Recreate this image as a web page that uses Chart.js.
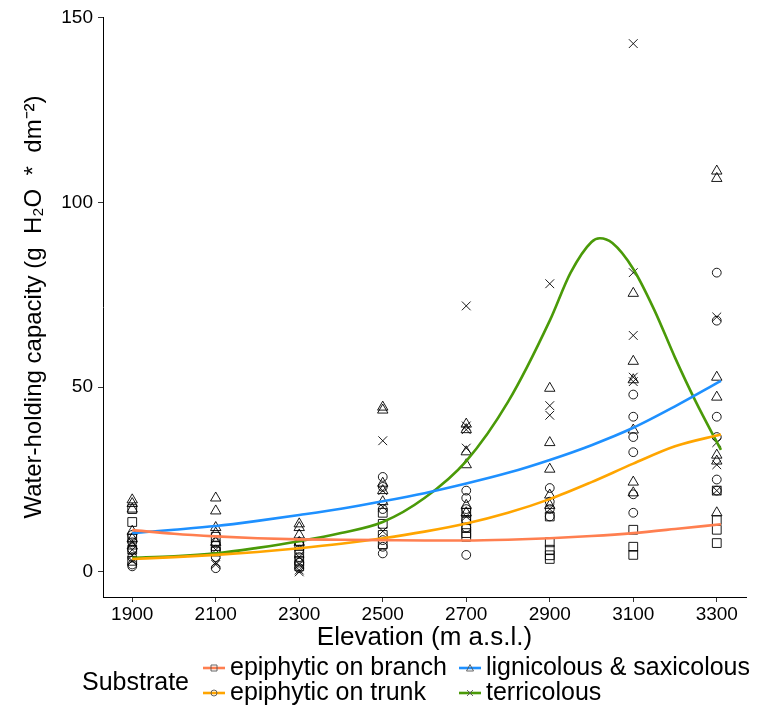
<!DOCTYPE html>
<html>
<head>
<meta charset="utf-8">
<script src="https://cdn.jsdelivr.net/npm/chart.js@4.4.1/dist/chart.umd.min.js"></script>
<style>
  html, body { margin: 0; padding: 0; background: #fff; }
  #wrap { width: 757px; height: 707px; }
</style>
</head>
<body>
<div id="wrap"><canvas id="c" width="757" height="707"></canvas></div>
<script>
// ---------- Data ----------
const elevations = [1900, 2100, 2300, 2500, 2700, 2900, 3100, 3300];
const xTicks = [1900, 2100, 2300, 2500, 2700, 2900, 3100, 3300];
const yTicks = [0, 50, 100, 150];

const seriesNames = ["epiphytic on branch", "epiphytic on trunk", "lignicolous & saxicolous", "terricolous"];
const seriesColors = ["#FF7F50", "#FFA500", "#1E90FF", "#4A9A08"];
const seriesShapes = ["rect", "circle", "triangle", "crossRot"];

// observations per elevation (g H2O * dm^-2)
const branchValues = [
  [17, 13.5, 9, 6, 3],
  [9.5, 7, 5.5],
  [7, 5, 3, 1.5],
  [16, 13, 10, 7.5],
  [16, 14, 12, 10.5, 9.5],
  [15, 8, 6, 4.5, 3.5],
  [11.4, 6.8, 4.6],
  [22, 14, 11.4, 7.8]
];
const trunkValues = [
  [10, 8, 6, 4, 2, 1.5],
  [8, 6, 4, 1],
  [8, 6, 4, 2.5, 1],
  [25.7, 23, 17, 8.6, 6.8, 5],
  [22, 20, 17, 14, 12, 4.6],
  [22.7, 19, 17, 15],
  [48, 42, 36.5, 32.4, 21, 16],
  [81, 68, 42, 36.5, 25, 22]
];
const lignicolousValues = [
  [19.5, 18.5, 17, 11, 9, 7],
  [20, 16.5, 12, 10.5, 8],
  [13, 12, 10, 8],
  [44.6, 43.8, 24, 22, 19],
  [40, 38.5, 32.5, 29, 18, 16],
  [49.7, 35, 27.8, 20.8, 18],
  [75.4, 57, 52, 38.4, 24.3, 21.4],
  [108.5, 106.5, 52.7, 47.3, 31.6, 30, 16]
];
const terricolousValues = [
  [8, 6, 4.5, 3],
  [6, 2.5, 2],
  [4, 2, 0.5, 0],
  [35.5, 22, 17.6, 11],
  [72, 39.5, 38.5, 33.5, 15],
  [78, 45, 42.4, 17],
  [143, 81, 64, 52.7, 51.5],
  [69, 35, 29, 22]
];

// smoothed trend curves
const fitElev = [1900, 2000, 2100, 2200, 2300, 2400, 2500, 2600, 2700, 2800, 2900, 3000, 3100, 3200, 3310];
const branchFit = [11.3, 10.3, 9.6, 9.1, 8.8, 8.7, 8.6, 8.5, 8.5, 8.7, 9.1, 9.7, 10.5, 11.6, 12.9];
const trunkFit = [3.5, 4.0, 4.6, 5.4, 6.4, 7.6, 9.1, 10.9, 13.1, 16.0, 19.7, 24.3, 29.3, 34.0, 37.2];
const lignicolousFit = [10.5, 11.4, 12.4, 13.8, 15.4, 17.1, 19.1, 21.3, 23.9, 26.8, 30.3, 34.3, 39.0, 44.8, 51.7];
const terricolousFitElev = [1900, 2000, 2100, 2200, 2300, 2400, 2500, 2600, 2700, 2800, 2900, 2950, 3000, 3020, 3050, 3100, 3150, 3200, 3250, 3310];
const terricolousFit = [3.8, 4.2, 5.0, 6.5, 8.3, 10.5, 13.5, 20, 30, 46, 68, 81, 89.3, 90.3, 89, 82, 71, 58, 46, 33];

// ---------- Build datasets ----------
function toPoints(values) {
  const out = [];
  elevations.forEach((e, i) => values[i].forEach(v => out.push({ x: e, y: v })));
  return out;
}
function toLine(xs, ys) { return xs.map((x, i) => ({ x: x, y: ys[i] })); }

const obs = [branchValues, trunkValues, lignicolousValues, terricolousValues];
const fits = [toLine(fitElev, branchFit), toLine(fitElev, trunkFit), toLine(fitElev, lignicolousFit), toLine(terricolousFitElev, terricolousFit)];
const radii = [6.2, 4.4, 6.0, 6.2];

const datasets = [];
obs.forEach((vals, i) => {
  datasets.push({
    type: 'scatter',
    label: seriesNames[i],
    data: toPoints(vals),
    pointStyle: seriesShapes[i],
    pointRadius: radii[i],
    pointBorderWidth: 0.9,
    pointBorderColor: '#000',
    pointBackgroundColor: 'rgba(0,0,0,0)',
    showLine: false,
    order: 2
  });
});
fits.forEach((pts, i) => {
  datasets.push({
    type: 'line',
    label: seriesNames[i] + ' trend',
    data: pts,
    borderColor: seriesColors[i],
    borderWidth: 2.6,
    pointRadius: 0,
    fill: false,
    cubicInterpolationMode: 'monotone',
    order: 1
  });
});

const FONT = '"Liberation Sans", Arial, sans-serif';

// ---------- Custom legend (ggplot style, bottom) ----------
const legendPlugin = {
  id: 'ggLegend',
  afterDraw(chart) {
    const ctx = chart.ctx;
    ctx.save();
    ctx.fillStyle = '#000';
    ctx.textBaseline = 'middle';
    ctx.textAlign = 'left';
    ctx.font = '25px ' + FONT;
    ctx.fillText('Substrate', 82, 683);
    const pos = [[214, 668], [214, 693], [470, 668], [470, 693]];
    seriesNames.forEach((name, i) => {
      const [cx, cy] = pos[i];
      ctx.strokeStyle = seriesColors[i];
      ctx.lineWidth = 2.6;
      ctx.beginPath();
      ctx.moveTo(cx - 11, cy);
      ctx.lineTo(cx + 11, cy);
      ctx.stroke();
      // marker
      ctx.strokeStyle = '#555';
      ctx.lineWidth = 0.9;
      ctx.beginPath();
      const r = 3;
      if (seriesShapes[i] === 'rect') {
        ctx.rect(cx - r, cy - r, 2 * r, 2 * r);
      } else if (seriesShapes[i] === 'circle') {
        ctx.arc(cx, cy, r, 0, Math.PI * 2);
      } else if (seriesShapes[i] === 'triangle') {
        ctx.moveTo(cx, cy - r - 0.5);
        ctx.lineTo(cx + r + 0.5, cy + r);
        ctx.lineTo(cx - r - 0.5, cy + r);
        ctx.closePath();
      } else {
        ctx.moveTo(cx - r, cy - r); ctx.lineTo(cx + r, cy + r);
        ctx.moveTo(cx + r, cy - r); ctx.lineTo(cx - r, cy + r);
      }
      ctx.stroke();
      ctx.fillStyle = '#000';
      ctx.font = '25px ' + FONT;
      ctx.fillText(name, cx + 16, cy);
    });
    ctx.restore();
  }
};

const tickFont = { family: FONT, size: 19 };

new Chart(document.getElementById('c'), {
  data: { datasets: datasets },
  options: {
    responsive: false,
    animation: false,
    devicePixelRatio: 1,
    layout: { padding: { top: 17, right: 11, bottom: 52, left: 0 } },
    plugins: { legend: { display: false }, tooltip: { enabled: false } },
    scales: {
      x: {
        type: 'linear',
        min: 1830, max: 3370,
        afterBuildTicks: s => { s.ticks = xTicks.map(v => ({ value: v })); },
        afterFit: s => { s.height = 58; },
        ticks: { color: '#000', font: tickFont, padding: 1, maxRotation: 0, autoSkip: false, callback: v => String(v) },
        grid: { drawOnChartArea: false, tickLength: 5, color: '#333', tickColor: '#333' },
        border: { color: '#000', width: 1 },
        title: { display: true, text: 'Elevation (m a.s.l.)', color: '#000', font: { family: FONT, size: 26 }, padding: { top: 0, bottom: 2 } }
      },
      y: {
        type: 'linear',
        min: -6.8, max: 150.2,
        afterBuildTicks: s => { s.ticks = yTicks.map(v => ({ value: v })); },
        afterFit: s => { s.width = 103; },
        ticks: { color: '#000', font: tickFont, padding: 5, callback: v => String(v) },
        grid: { drawOnChartArea: false, tickLength: 5, color: '#333', tickColor: '#333' },
        border: { color: '#000', width: 1 },
        title: { display: true, text: 'Water-holding capacity (g  H\u2082O  *  dm\u207B\u00B2)', color: '#000', font: { family: FONT, size: 24 }, padding: { top: 20, bottom: 0 } }
      }
    }
  },
  plugins: [legendPlugin]
});
</script>
</body>
</html>
